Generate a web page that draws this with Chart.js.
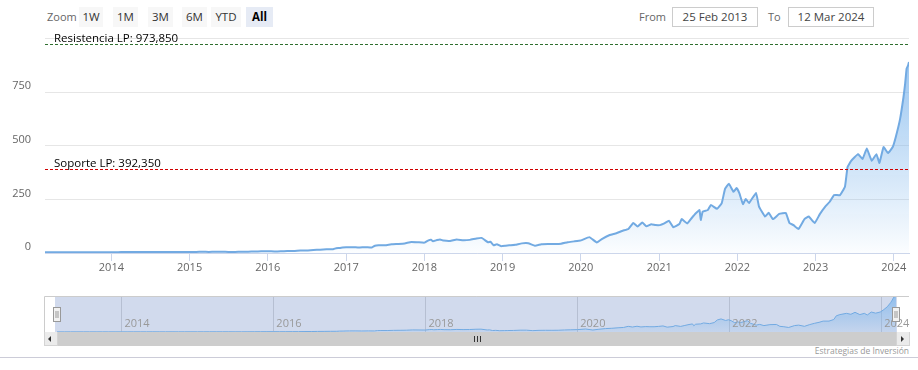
<!DOCTYPE html>
<html>
<head>
<meta charset="utf-8">
<script src="https://cdn.jsdelivr.net/npm/chart.js@4.4.1/dist/chart.umd.min.js"></script>
<style>
  body { margin: 0; background: #fff; font-family: "Open Sans", "DejaVu Sans", sans-serif; }
  #wrap { position: relative; width: 918px; height: 370px; overflow: hidden; }
  .abs { position: absolute; }
  .lbl { font-size: 11px; color: #666; line-height: 20px; top: 7px; }
  .btn { top: 7px; height: 20px; line-height: 20px; font-size: 11.5px; color: #333; background: #f7f7f7; text-align: center; }
  .btn.on { background: #e6ebf5; font-weight: bold; color: #000; }
  .inp { top: 7px; height: 18px; line-height: 18px; border: 1px solid #ccc; font-size: 11.5px; color: #444; text-align: center; }
</style>
</head>
<body>
<div id="wrap">
  <div class="abs lbl" style="left:47px">Zoom</div>
  <div class="abs btn" style="left:79px;width:24px">1W</div>
  <div class="abs btn" style="left:113px;width:25px">1M</div>
  <div class="abs btn" style="left:148px;width:25px">3M</div>
  <div class="abs btn" style="left:182px;width:25px">6M</div>
  <div class="abs btn" style="left:211px;width:30px">YTD</div>
  <div class="abs btn on" style="left:246px;width:27px">All</div>
  <div class="abs lbl" style="left:639px">From</div>
  <div class="abs inp" style="left:672px;width:84px">25 Feb 2013</div>
  <div class="abs lbl" style="left:768px">To</div>
  <div class="abs inp" style="left:788px;width:84px">12 Mar 2024</div>

  <div class="abs" style="left:0;top:0;width:918px;height:285px"><canvas id="mainChart"></canvas></div>
  <div class="abs" style="left:0;top:296px;width:918px;height:36px"><canvas id="navChart"></canvas></div>

  <!-- scrollbar -->
  <div class="abs" style="left:44px;top:332px;width:865px;height:14px;background:#cdcdcd"></div>
  <div class="abs" style="left:44px;top:332px;width:12px;height:13px;background:#ebebeb;border:1px solid #d4d4d4;border-top:0"></div>
  <div class="abs" style="left:896px;top:332px;width:12px;height:13px;background:#ebebeb;border:1px solid #d4d4d4;border-top:0"></div>
  <div class="abs" style="left:48px;top:336px;width:0;height:0;border-top:3px solid transparent;border-bottom:3px solid transparent;border-right:3px solid #333"></div>
  <div class="abs" style="left:901px;top:336px;width:0;height:0;border-top:3px solid transparent;border-bottom:3px solid transparent;border-left:3px solid #333"></div>
  <div class="abs" style="left:474px;top:336px;width:1px;height:6px;background:#333"></div>
  <div class="abs" style="left:477px;top:336px;width:1px;height:6px;background:#333"></div>
  <div class="abs" style="left:480px;top:336px;width:1px;height:6px;background:#333"></div>

  <div class="abs" style="right:9px;top:345px;font-size:8.5px;color:#999;line-height:12px">Estrategias de Inversión</div>
  <div class="abs" style="left:0;top:357px;width:918px;height:1px;background:#ccccd8"></div>
</div>

<script>
// Datos de la serie (cierres aproximados)
const priceDates = [
  '2013-02-25', '2013-04-01', '2013-05-01', '2013-06-01', '2013-07-01', '2013-08-01', '2013-09-01', '2013-10-01', '2013-11-01', '2013-12-01',
  '2014-01-01', '2014-02-01', '2014-03-01', '2014-04-01', '2014-05-01', '2014-06-01', '2014-07-01', '2014-08-01', '2014-09-01', '2014-10-01', '2014-11-01', '2014-12-01',
  '2015-01-01', '2015-02-01', '2015-03-01', '2015-04-01', '2015-05-01', '2015-06-01', '2015-07-01', '2015-08-01', '2015-09-01', '2015-10-01', '2015-11-01', '2015-12-01',
  '2016-01-01', '2016-02-01', '2016-03-01', '2016-04-01', '2016-05-01', '2016-06-01', '2016-07-01', '2016-08-01', '2016-09-01', '2016-10-01', '2016-11-01', '2016-11-15', '2016-12-01', '2016-12-15',
  '2017-01-01', '2017-02-01', '2017-03-01', '2017-04-01', '2017-05-01', '2017-05-15', '2017-06-01', '2017-07-01', '2017-08-01', '2017-09-01', '2017-10-01', '2017-11-01', '2017-12-01',
  '2018-01-01', '2018-01-20', '2018-02-01', '2018-02-10', '2018-03-01', '2018-03-15', '2018-04-01', '2018-05-01', '2018-06-01', '2018-07-01', '2018-08-01', '2018-09-01', '2018-09-25', '2018-10-25', '2018-11-05', '2018-11-20', '2018-12-05', '2018-12-24',
  '2019-01-15', '2019-02-01', '2019-03-01', '2019-04-01', '2019-05-01', '2019-06-01', '2019-07-01', '2019-08-01', '2019-09-01', '2019-10-01', '2019-11-01', '2019-12-01',
  '2020-01-02', '2020-02-10', '2020-03-16', '2020-04-10', '2020-05-15', '2020-06-15', '2020-07-15', '2020-08-10', '2020-09-02', '2020-09-22', '2020-10-14', '2020-11-02', '2020-11-25', '2020-12-15',
  '2021-01-04', '2021-01-25', '2021-02-16', '2021-03-08', '2021-04-05', '2021-04-16', '2021-05-12', '2021-06-01', '2021-06-21', '2021-07-08', '2021-07-14', '2021-07-23', '2021-08-16', '2021-08-30', '2021-09-28', '2021-10-20', '2021-11-04', '2021-11-22', '2021-12-14', '2021-12-28',
  '2022-01-10', '2022-01-27', '2022-02-09', '2022-02-24', '2022-03-29', '2022-04-12', '2022-05-10', '2022-05-27', '2022-06-16', '2022-07-15', '2022-08-15', '2022-09-01', '2022-09-20', '2022-10-13', '2022-11-10', '2022-11-30', '2022-12-28',
  '2023-01-20', '2023-02-15', '2023-03-08', '2023-03-28', '2023-04-25', '2023-05-18', '2023-05-30', '2023-06-16', '2023-07-18', '2023-08-08', '2023-08-28', '2023-09-20', '2023-10-12', '2023-10-26', '2023-11-14', '2023-12-05', '2023-12-27',
  '2024-01-10', '2024-01-30', '2024-02-15', '2024-02-23', '2024-03-01', '2024-03-08', '2024-03-12'
];
const closePrices = [
  3.1, 3.2, 3.5, 3.5, 3.6, 3.7, 3.8, 3.9, 3.8, 3.9,
  4.0, 3.9, 4.5, 4.5, 4.6, 4.8, 4.6, 4.4, 4.9, 4.6, 4.9, 5.2,
  5.0, 4.8, 5.7, 5.2, 5.5, 5.5, 5.0, 5.0, 5.6, 6.2, 7.1, 8.0,
  8.2, 7.3, 7.9, 8.9, 8.9, 11.7, 11.8, 14.3, 15.3, 17.1, 17.8, 22.5, 23.1, 25.5,
  26.7, 27.3, 25.3, 27.2, 26.0, 34.0, 36.0, 36.2, 40.6, 42.3, 44.7, 51.7, 50.2,
  48.4, 59, 61.5, 55, 60.4, 63, 57.9, 56.2, 63.2, 59.2, 61.2, 68, 70.3, 50, 52.7, 36, 40.9, 32,
  34, 36, 38.5, 44.9, 45.3, 33.9, 41.1, 42.2, 42, 43.5, 50.3, 54.2,
  59, 74, 49, 66, 84, 92, 104, 112, 140, 123, 142, 125, 134, 130,
  130, 138, 150, 120, 135, 158, 138, 162, 185, 200, 154, 193, 200, 224, 206, 233, 298, 323, 285, 303,
  279, 228, 252, 233, 280, 216, 170, 188, 158, 182, 186, 140, 130, 112, 158, 170, 140,
  180, 216, 239, 270, 270, 309, 400, 430, 461, 438, 487, 430, 461, 420, 494, 466, 494,
  540, 623, 725, 790, 860, 875, 890
];
const mainTickYears = [2014, 2015, 2016, 2017, 2018, 2019, 2020, 2021, 2022, 2023, 2024];
const navTickYears = [2014, 2016, 2018, 2020, 2022, 2024];
const yTicks = [0, 250, 500, 750, 1000];
const rangeStart = '2013-02-25', rangeEnd = '2024-03-12';

// Líneas de soporte y resistencia
const levelNames = ['Resistencia LP: 973,850', 'Soporte LP: 392,350'];
const levelValues = [973.85, 392.35];
const levelColors = ['#2f6f2f', '#d00000'];

const seriesColor = '#72aae2';
const toTime = function (d) { return Date.parse(d + 'T00:00:00Z'); };
const yearTime = function (y) { return Date.UTC(y, 0, 1); };
const points = priceDates.map(function (d, i) { return { x: toTime(d), y: closePrices[i] }; });
const fontFamily = '"Open Sans", "DejaVu Sans", sans-serif';

function areaGradient(alphaTop, alphaBottom) {
  return function (context) {
    const area = context.chart.chartArea;
    if (!area) return 'rgba(124,181,236,0.3)';
    const g = context.chart.ctx.createLinearGradient(0, area.top, 0, area.bottom);
    g.addColorStop(0, 'rgba(124,181,236,' + alphaTop + ')');
    g.addColorStop(1, 'rgba(124,181,236,' + alphaBottom + ')');
    return g;
  };
}

// Plugin para dibujar las líneas horizontales de niveles
const levelLines = {
  id: 'levelLines',
  afterDatasetsDraw(chart) {
    const ctx = chart.ctx, area = chart.chartArea, y = chart.scales.y;
    ctx.save();
    levelValues.forEach(function (v, i) {
      const py = Math.round(y.getPixelForValue(v)) + 0.5;
      ctx.strokeStyle = levelColors[i];
      ctx.lineWidth = 1;
      ctx.setLineDash([3, 2]);
      ctx.beginPath();
      ctx.moveTo(area.left, py);
      ctx.lineTo(area.right + 1, py);
      ctx.stroke();
      ctx.setLineDash([]);
      ctx.fillStyle = '#000';
      ctx.font = '11.5px ' + fontFamily;
      ctx.textBaseline = 'alphabetic';
      ctx.fillText(levelNames[i], area.left + 9, py - 3);
    });
    ctx.restore();
  }
};

const mainChart = new Chart(document.getElementById('mainChart'), {
  type: 'line',
  data: {
    datasets: [{
      data: points,
      borderColor: seriesColor,
      borderWidth: 2,
      pointRadius: 0,
      tension: 0.1,
      fill: 'origin',
      backgroundColor: areaGradient(0.85, 0.03)
    }]
  },
  options: {
    responsive: true,
    maintainAspectRatio: false,
    animation: false,
    layout: { padding: { top: 38.5, right: 9, left: 0, bottom: 0 } },
    plugins: { legend: { display: false }, tooltip: { enabled: false } },
    scales: {
      x: {
        type: 'linear',
        min: toTime(rangeStart),
        max: toTime(rangeEnd),
        afterBuildTicks: function (scale) {
          scale.ticks = mainTickYears.map(function (y) { return { value: yearTime(y) }; });
        },
        afterFit: function (scale) { scale.height = 32; },
        grid: { drawOnChartArea: false, drawTicks: true, tickLength: 8, color: '#ccd6eb' },
        border: { color: '#ccd6eb' },
        ticks: {
          color: '#666',
          padding: 0,
          maxRotation: 0,
          autoSkip: false,
          font: { family: fontFamily, size: 11 },
          callback: function (v) { return new Date(v).getUTCFullYear(); }
        }
      },
      y: {
        min: 0,
        max: 1000,
        afterBuildTicks: function (scale) {
          scale.ticks = yTicks.map(function (v) { return { value: v }; });
        },
        afterFit: function (scale) { scale.width = 45; },
        grid: { color: '#e6e6e6', drawTicks: false },
        border: { display: false },
        ticks: {
          color: '#666',
          padding: 14,
          labelOffset: -6,
          font: { family: fontFamily, size: 11 },
          callback: function (v) { return v === 1000 ? '' : v; }
        }
      }
    }
  },
  plugins: [levelLines]
});

// Navegador inferior
const navDecor = {
  id: 'navDecor',
  beforeDatasetsDraw(chart) {
    const ctx = chart.ctx, a = chart.chartArea;
    ctx.save();
    ctx.fillStyle = 'rgba(102,133,194,0.3)';
    ctx.fillRect(a.left - 2, a.top, a.right - a.left + 3, a.bottom - a.top);
    ctx.restore();
  },
  afterDraw(chart) {
    const ctx = chart.ctx, a = chart.chartArea, x = chart.scales.x;
    ctx.save();
    // contorno
    ctx.strokeStyle = '#cccccc';
    ctx.lineWidth = 1;
    ctx.beginPath();
    ctx.moveTo(44.5, a.bottom);
    ctx.lineTo(44.5, 0.5);
    ctx.lineTo(909, 0.5);
    ctx.stroke();
    // etiquetas de años
    ctx.fillStyle = '#999';
    ctx.font = '11px ' + fontFamily;
    ctx.textBaseline = 'middle';
    x.ticks.forEach(function (t) {
      ctx.fillText(new Date(t.value).getUTCFullYear(), x.getPixelForValue(t.value) + 3, 28);
    });
    // manijas
    [a.left, a.right].forEach(function (hx) {
      const left = Math.round(hx) - 3.5;
      ctx.fillStyle = '#f2f2f2';
      ctx.strokeStyle = '#999';
      ctx.fillRect(left, 11.5, 7, 14);
      ctx.strokeRect(left, 11.5, 7, 14);
      ctx.beginPath();
      ctx.moveTo(left + 2.5, 15); ctx.lineTo(left + 2.5, 22);
      ctx.moveTo(left + 4.5, 15); ctx.lineTo(left + 4.5, 22);
      ctx.stroke();
    });
    ctx.restore();
  }
};

const navChart = new Chart(document.getElementById('navChart'), {
  type: 'line',
  data: {
    datasets: [{
      data: points,
      borderColor: seriesColor,
      borderWidth: 1,
      pointRadius: 0,
      fill: 'origin',
      backgroundColor: areaGradient(0.75, 0.15)
    }]
  },
  options: {
    responsive: true,
    maintainAspectRatio: false,
    animation: false,
    layout: { padding: { top: 0, right: 22, left: 57, bottom: 0 } },
    plugins: { legend: { display: false }, tooltip: { enabled: false } },
    scales: {
      x: {
        type: 'linear',
        min: toTime(rangeStart),
        max: toTime(rangeEnd),
        afterBuildTicks: function (scale) {
          scale.ticks = navTickYears.map(function (y) { return { value: yearTime(y) }; });
        },
        afterFit: function (scale) { scale.height = 0; },
        grid: { drawOnChartArea: true, drawTicks: false, color: '#d8d8d8' },
        border: { display: false },
        ticks: { display: false }
      },
      y: {
        display: false,
        min: 0,
        max: Math.max.apply(null, closePrices)
      }
    }
  },
  plugins: [navDecor]
});
</script>
</body>
</html>
